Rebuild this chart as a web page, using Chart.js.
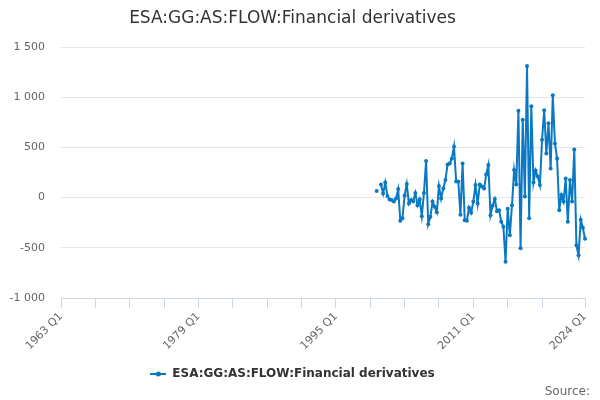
<!DOCTYPE html>
<html>
<head>
<meta charset="utf-8">
<title>ESA:GG:AS:FLOW:Financial derivatives</title>
<script src="https://cdn.jsdelivr.net/npm/chart.js@4/dist/chart.umd.min.js"></script>
<style>
    html, body { margin: 0; padding: 0; background: #fff; }
    #wrap { width: 600px; height: 400px; }
</style>
</head>
<body>
<div id="wrap"><canvas id="flowChart" width="600" height="400"></canvas></div>
<script>
// Datos de la serie (trimestral, desde 1999 Q4 hasta 2024 Q1)
const chartTitle = 'ESA:GG:AS:FLOW:Financial derivatives';
const seriesName = 'ESA:GG:AS:FLOW:Financial derivatives';
const firstYear = 1963;
const lastLabel = '2024 Q1';
const seriesStart = '1999 Q4';

const flowValues = [
    65,                       // 1999 Q4
    null, 130, 40, 150,       // 2000
    15, -20, -25, -40,        // 2001
    -10, 85, -230, -205,      // 2002
    20, 135, -60, -25,        // 2003
    -40, 45, -75, -20,        // 2004
    -185, 45, 365, -265,      // 2005
    -190, -40, -90, -145,     // 2006
    115, -10, 90, 175,        // 2007
    330, 340, 390, 510,       // 2008
    160, 160, -170, 340,      // 2009
    -225, -230, -100, -150,   // 2010
    -40, 125, -60, 130,       // 2011
    110, 90, 230, 325,        // 2012
    -175, -80, -15, -135,     // 2013
    -125, -240, -290, -640,   // 2014
    -110, -375, -75, 275,     // 2015
    130, 865, -505, 775,      // 2016
    10, 1310, -205, 910,      // 2017
    150, 270, 210, 125,       // 2018
    575, 870, 440, 740,       // 2019
    290, 1020, 540, 390,      // 2020
    -125, 25, -40, 190,       // 2021
    -240, 175, -40, 480,      // 2022
    -475, -575, -220, -300,   // 2023
    -410                      // 2024 Q1
];

const xTickLabels = ['1963 Q1', '1979 Q1', '1995 Q1', '2011 Q1', '2024 Q1'];
const yTicks = [-1000, -500, 0, 500, 1000, 1500];

// Categorías: todos los trimestres del eje
const categories = [];
for (let y = firstYear; categories[categories.length - 1] !== lastLabel; y++) {
    for (let q = 1; q <= 4 && categories[categories.length - 1] !== lastLabel; q++) {
        categories.push(`${y} Q${q}`);
    }
}
const startIndex = categories.indexOf(seriesStart);
const seriesData = categories.map((_, i) => {
    const v = flowValues[i - startIndex];
    return v === undefined ? null : v;
});
const lastIndex = categories.length - 1;

const lineColor = '#0a78c2';

// Símbolo de la leyenda: línea con punto
function legendSymbol() {
    const c = document.createElement('canvas');
    c.width = 16;
    c.height = 8;
    const g = c.getContext('2d');
    g.strokeStyle = lineColor;
    g.lineWidth = 2;
    g.beginPath();
    g.moveTo(0, 4);
    g.lineTo(16, 4);
    g.stroke();
    g.fillStyle = lineColor;
    g.beginPath();
    g.arc(8, 4, 2.5, 0, Math.PI * 2);
    g.fill();
    return c;
}

function formatThousands(v) {
    const s = Math.abs(v).toString().replace(/\B(?=(\d{3})+(?!\d))/g, ' ');
    return (v < 0 ? '-' : '') + s;
}

// Texto "Source:" abajo a la derecha
const sourcePlugin = {
    id: 'sourceText',
    afterDraw(chart) {
        const ctx = chart.ctx;
        ctx.save();
        ctx.font = '12px "DejaVu Sans"';
        ctx.fillStyle = '#666666';
        ctx.textAlign = 'right';
        ctx.textBaseline = 'middle';
        ctx.fillText('Source:', chart.width - 10, chart.height - 8);
        ctx.restore();
    }
};

Chart.defaults.font.family = '"DejaVu Sans", sans-serif';

const ctx = document.getElementById('flowChart').getContext('2d');
const flowChart = new Chart(ctx, {
    type: 'line',
    data: {
        labels: categories,
        datasets: [{
            label: seriesName,
            data: seriesData,
            borderColor: lineColor,
            backgroundColor: lineColor,
            borderWidth: 2,
            pointRadius: 2,
            pointHoverRadius: 3,
            pointBorderWidth: 0,
            tension: 0,
            spanGaps: false
        }]
    },
    options: {
        responsive: false,
        animation: false,
        layout: {
            padding: { left: 0, right: 15, top: 0, bottom: 10 }
        },
        plugins: {
            title: {
                display: true,
                text: chartTitle,
                color: '#333333',
                font: { size: 17, weight: 'normal' },
                padding: { top: 8, bottom: 18.6 }
            },
            legend: {
                position: 'bottom',
                labels: {
                    color: '#333333',
                    font: { size: 12, weight: 'bold' },
                    padding: 8,
                    usePointStyle: true,
                    pointStyleWidth: 16,
                    generateLabels(chart) {
                        const items = Chart.defaults.plugins.legend.labels.generateLabels(chart);
                        items.forEach(it => { it.pointStyle = legendSymbol(); });
                        return items;
                    }
                }
            },
            tooltip: { enabled: false }
        },
        scales: {
            x: {
                type: 'category',
                offset: false,
                border: { display: true, color: '#ccd6eb', width: 1 },
                grid: {
                    drawOnChartArea: false,
                    drawTicks: true,
                    tickLength: 10,
                    color: '#ccd6eb'
                },
                ticks: {
                    autoSkip: false,
                    minRotation: 45,
                    maxRotation: 45,
                    color: '#666666',
                    font: { size: 11 },
                    padding: 2,
                    callback: function(value) {
                        const lbl = this.getLabelForValue(value);
                        return xTickLabels.includes(lbl) ? lbl : '';
                    }
                },
                afterBuildTicks: axis => {
                    axis.ticks = axis.ticks.filter(t =>
                        (t.value % 16 === 0 && t.value <= lastIndex - 16) || t.value === lastIndex);
                },
                afterFit: axis => {
                    axis.height = 62;
                    axis.paddingLeft = 0;
                    axis.paddingRight = 0;
                }
            },
            y: {
                min: yTicks[0],
                max: yTicks[yTicks.length - 1],
                border: { display: false },
                grid: {
                    color: '#e6e6e6',
                    drawTicks: false
                },
                ticks: {
                    stepSize: 500,
                    color: '#666666',
                    font: { size: 11 },
                    padding: 16,
                    callback: value => formatThousands(value)
                },
                afterFit: axis => {
                    axis.width = 61;
                }
            }
        }
    },
    plugins: [sourcePlugin]
});
</script>
</body>
</html>
